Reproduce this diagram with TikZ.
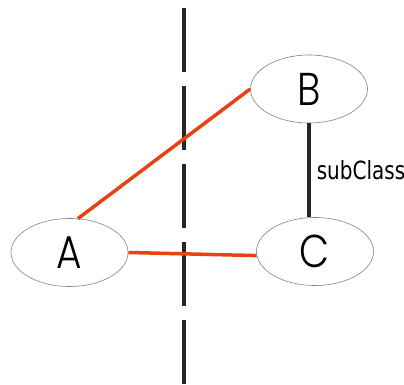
\documentclass[tikz,border=0pt]{standalone}
\usepackage{fontspec}
\usepackage{xcolor}
\usetikzlibrary{shapes.geometric}
\newfontfamily\classfont[FakeStretch=0.85]{Poppins Light}
\newfontfamily\edgefont[FakeStretch=0.8]{DejaVu Sans}
\definecolor{linkred}{RGB}{232,66,18}
\definecolor{rimgray}{RGB}{130,130,130}

\begin{document}
\begin{tikzpicture}[x=1pt, y=-1pt,
    classnode/.style={ellipse, draw=rimgray, line width=0.6pt, minimum width=117pt, minimum height=68pt, inner sep=0pt, font=\classfont\fontsize{46}{46}\selectfont},
    crosslink/.style={draw=linkred, line width=3.5pt},
    sublink/.style={draw=black!85, line width=3.5pt},
    boundary/.style={draw=black!85, line width=3.5pt, dash pattern=on 64pt off 14pt}]
    \useasboundingbox (0,0) rectangle (404,385);

    % --- Boundary ---
    \coordinate (top) at (184,8);
    \coordinate (bottom) at (184,385);
    \draw[boundary] (top) -- (bottom);

    % --- Classes ---
    \node[classnode] (B) at (309,89) {B};
    \node[classnode] (C) at (315,251.5) {C};
    \node[classnode] (A) at (69.5,252.5) {A};

    % --- Links ---
    \draw[crosslink] (A.76) -- (B.west);
    \draw[crosslink] (A.east) -- (C.184);
    \draw[sublink] (B.south) -- (B.south |- C.north)
        node[midway, right, inner sep=0pt, xshift=6pt, font=\edgefont\fontsize{25}{25}\selectfont] (lbl) {subClass};
\end{tikzpicture}
\end{document}
